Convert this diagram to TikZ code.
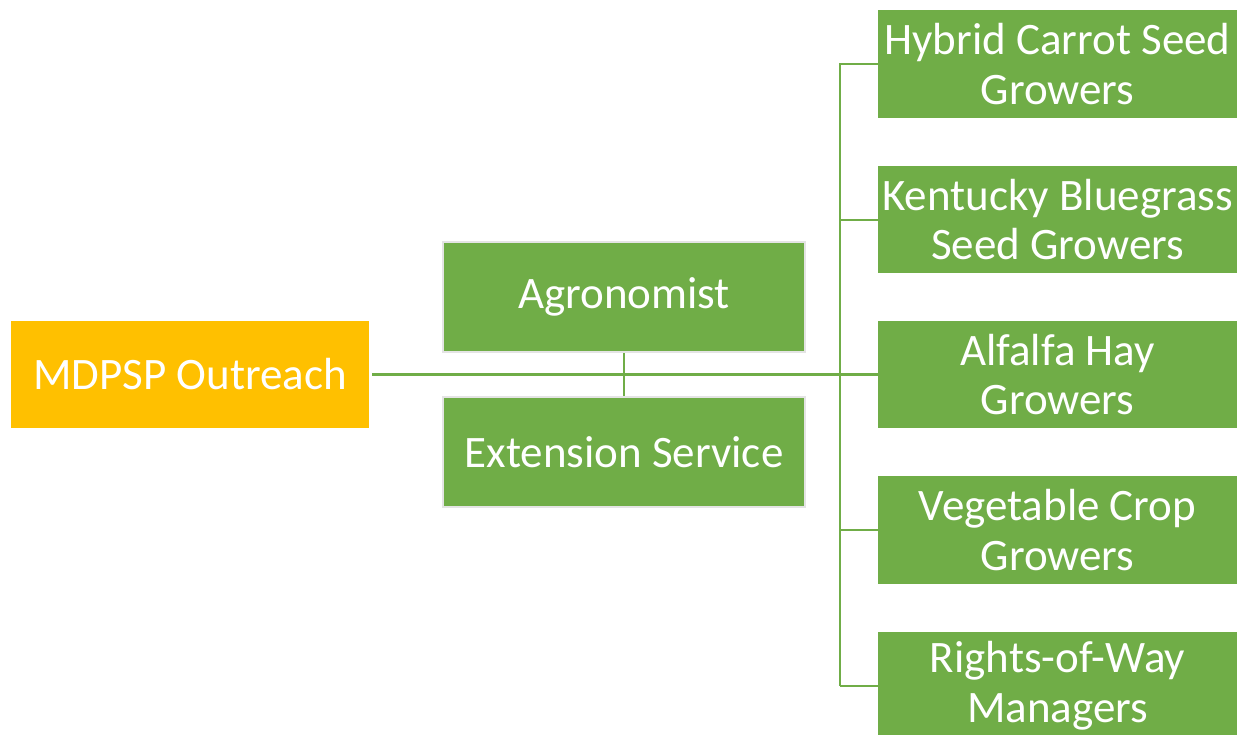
\documentclass[tikz,border=0pt]{standalone}
\usepackage{fontspec}
\setmainfont{Carlito}
\definecolor{leaf}{HTML}{70AD47}
\definecolor{gold}{HTML}{FFC000}
\definecolor{edge}{HTML}{E4E4E4}
\begin{document}
\begin{tikzpicture}[x=1pt,y=-1pt,
  box/.style={fill=leaf,draw=none,text=white,align=center,inner sep=0pt,
    font=\fontsize{45}{49.5}\selectfont},
  midbox/.style={box,draw=edge,line width=2pt},
  link/.style={draw=leaf,line width=2pt}]
\useasboundingbox (0,0) rectangle (1238,734);
\node[box,fill=gold,minimum width=358pt,minimum height=107pt] (out) at (190,374.5) {MDPSP Outreach};
\node[midbox,minimum width=362pt,minimum height=110pt] (agr) at (624,297) {Agronomist};
\node[midbox,minimum width=362pt,minimum height=110pt] (ext) at (624,452) {Extension Service};
\node[box,minimum width=359pt,minimum height=107.5pt] (g1) at (1057.5,63.8) {Hybrid Carrot Seed\\Growers};
\node[box,minimum width=359pt,minimum height=107.5pt] (g2) at (1057.5,219.5) {Kentucky Bluegrass\\Seed Growers};
\node[box,minimum width=359pt,minimum height=107pt] (g3) at (1057.5,374.5) {Alfalfa Hay\\Growers};
\node[box,minimum width=359pt,minimum height=108pt] (g4) at (1057.5,530) {Vegetable Crop\\Growers};
\node[box,minimum width=359pt,minimum height=108pt] (g5) at (1057.5,685.5) {Rights-of-Way\\Managers};
\coordinate (t1) at (840,63.3);
\coordinate (t5) at (840,686);
\draw[link,line width=3pt] ([xshift=3pt]out.east) -- (g3.west);
\draw[link] (agr.south) -- (ext.north);
\draw[link] (t1) -- (t5);
\foreach \g in {g1,g2,g4,g5} \draw[link] (t1 |- \g.west) -- (\g.west);
\end{tikzpicture}
\end{document}
